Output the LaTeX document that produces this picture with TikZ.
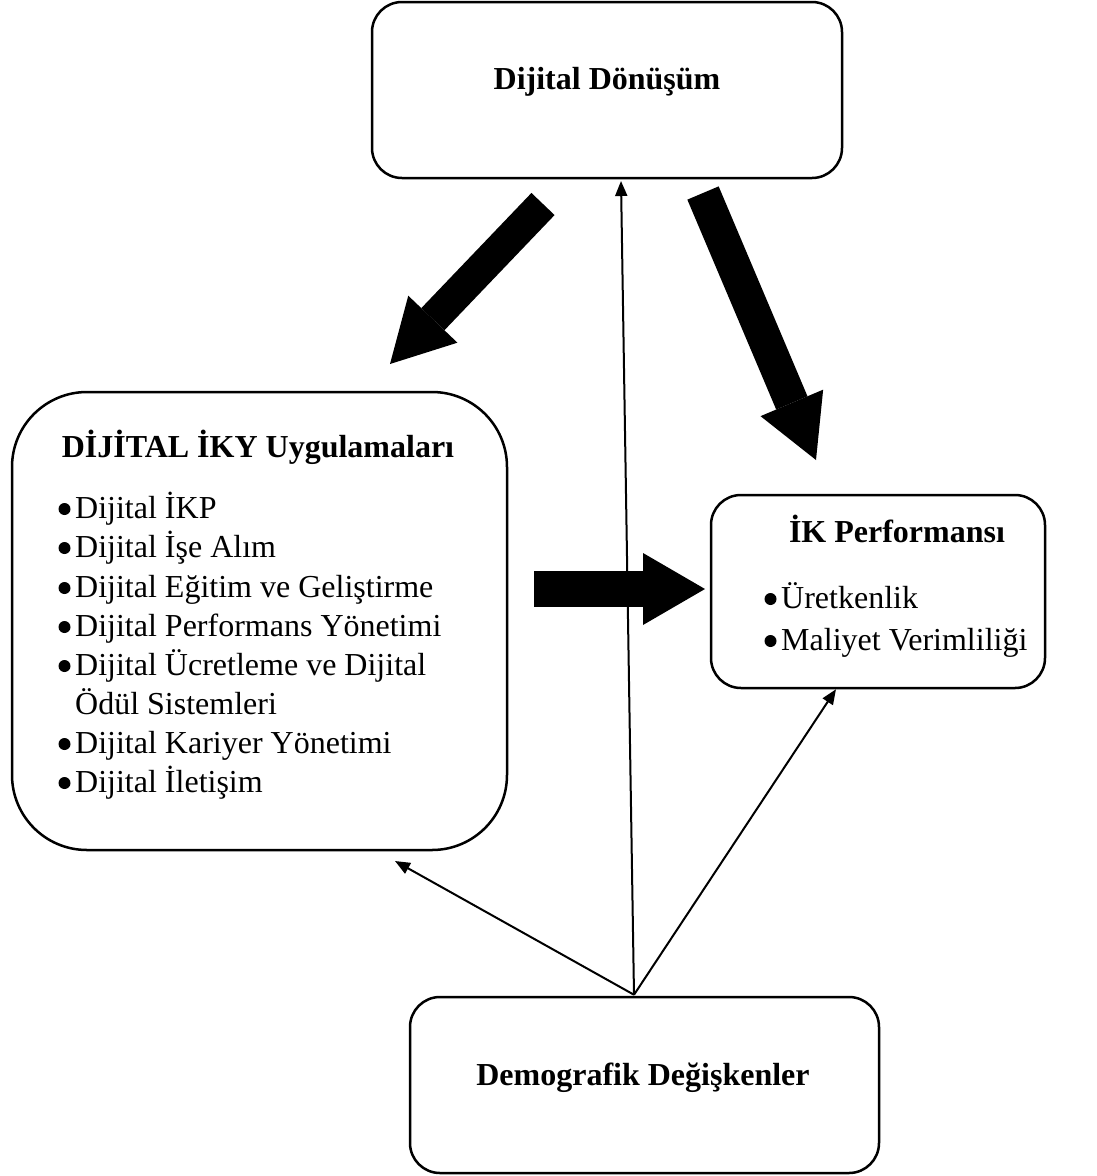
\documentclass[tikz,border=0pt]{standalone}
\usepackage{fontspec}
\setmainfont{Liberation Serif}
\usetikzlibrary{arrows.meta,calc}
\begin{document}
\begin{tikzpicture}[x=1pt,y=-1pt,
  box/.style={draw=black, line width=2.5pt, rounded corners=#1, inner sep=0pt},
  box/.default=30pt,
  heading/.style={anchor=base, inner sep=0pt, font=\fontsize{32}{39}\selectfont\bfseries},
  entry/.style={anchor=base west, inner sep=0pt, font=\fontsize{32}{39}\selectfont},
  thinarrow/.style={line width=2pt, -{Triangle[length=15pt,width=12pt]}},
  bigarrow/.style args={#1/#2/#3}{line width=#1, -{Triangle[length=#2,width=#3,line width=0pt]}}
]
% page
\fill[white] (0,0) rectangle (1096,1176);
\useasboundingbox (0,0) rectangle (1096,1176);

% boxes
\node[box, minimum width=470pt, minimum height=176pt] (dd) at (607,90) {};
\node[box=75pt, minimum width=495pt, minimum height=458pt] (iky) at (259.5,621) {};
\node[box, minimum width=334pt, minimum height=193pt] (ikp) at (878,591.5) {};
\node[box, minimum width=469pt, minimum height=176pt] (demo) at (644.5,1085) {};

% headings
\node[heading] (ddt) at (607,89) {Dijital Dönüşüm};
\node[heading] (ikyt) at (258,457) {DİJİTAL İKY Uygulamaları};
\node[heading] (ikpt) at (897,542) {İK Performansı};
\node[heading] (demot) at (643,1085) {Demografik Değişkenler};

% HR practices list
\node[entry] (i1) at (75,518) {Dijital İKP};
\node[entry] (i2) at (75,557) {Dijital İşe Alım};
\node[entry] (i3) at (75,597) {Dijital Eğitim ve Geliştirme};
\node[entry] (i4) at (75,636) {Dijital Performans Yönetimi};
\node[entry] (i5) at (75,675) {Dijital Ücretleme ve Dijital};
\node[entry] (i5b) at (75,714) {Ödül Sistemleri};
\node[entry] (i6) at (75,753) {Dijital Kariyer Yönetimi};
\node[entry] (i7) at (75,792) {Dijital İletişim};

% performance list
\node[entry] (p1) at (781,608) {Üretkenlik};
\node[entry] (p2) at (781,650) {Maliyet Verimliliği};

% bullets hanging left of each item
\foreach \n in {i1,i2,i3,i4,i5,i6,i7,p1,p2}
  \fill ($(\n.base west)+(-10.5,-9)$) circle (6pt);

% thick arrows
\coordinate (a1s) at (543,204);  \coordinate (a1e) at (390,364);
\coordinate (a2s) at (703,193);  \coordinate (a2e) at (816,460);
\coordinate (a3s) at (534,589);  \coordinate (a3e) at (705,589);
\draw[bigarrow={32pt/62pt/68pt}] (a1s) -- (a1e);
\draw[bigarrow={34pt/62pt/68pt}] (a2s) -- (a2e);
\draw[bigarrow={36pt/62pt/72pt}] (a3s) -- (a3e);

% thin arrows from demographics
\coordinate (src) at ($(demo.north)+(-10.5,-1)$);
\coordinate (tl) at (395,861);
\coordinate (tu) at (621,181);
\coordinate (tr) at ($(ikp.south)+(-42,0)$);
\draw[thinarrow] (src) -- (tl);
\draw[thinarrow] (src) -- (tu);
\draw[thinarrow] (src) -- (tr);
\end{tikzpicture}
\end{document}
